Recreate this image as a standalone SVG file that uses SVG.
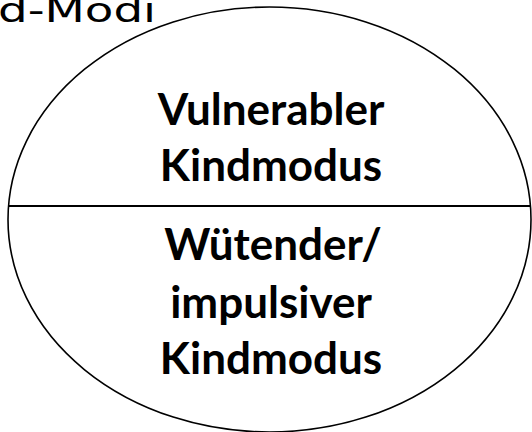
<svg xmlns="http://www.w3.org/2000/svg" width="532" height="432" viewBox="0 0 532 432">
<style>
.lbl{font-family:Lato,"Open Sans",sans-serif;font-weight:bold;font-size:44px;fill:#000;text-anchor:middle}
.ttl{font-family:"DejaVu Sans","Liberation Sans",sans-serif;font-size:34px;fill:#000}
</style>
<rect width="532" height="432" fill="#fff"/>
<text class="ttl" x="-2" y="22" textLength="158" lengthAdjust="spacingAndGlyphs">d-Modi</text>
<g id="ellipse">
<ellipse cx="269.5" cy="219.5" rx="261.5" ry="212.5" fill="none" stroke="#000" stroke-width="1.6"/>
</g>
<g id="connectors">
<line x1="8" y1="206" x2="531" y2="206" stroke="#000" stroke-width="2.2"/>
</g>
<g id="node-vulnerable">
<text class="lbl" x="271" y="125">Vulnerabler</text>
<text class="lbl" x="271" y="181">Kindmodus</text>
</g>
<g id="node-angry">
<text class="lbl" x="273" y="260">Wütender/</text>
<text class="lbl" x="271" y="318">impulsiver</text>
<text class="lbl" x="271" y="374">Kindmodus</text>
</g>
</svg>
